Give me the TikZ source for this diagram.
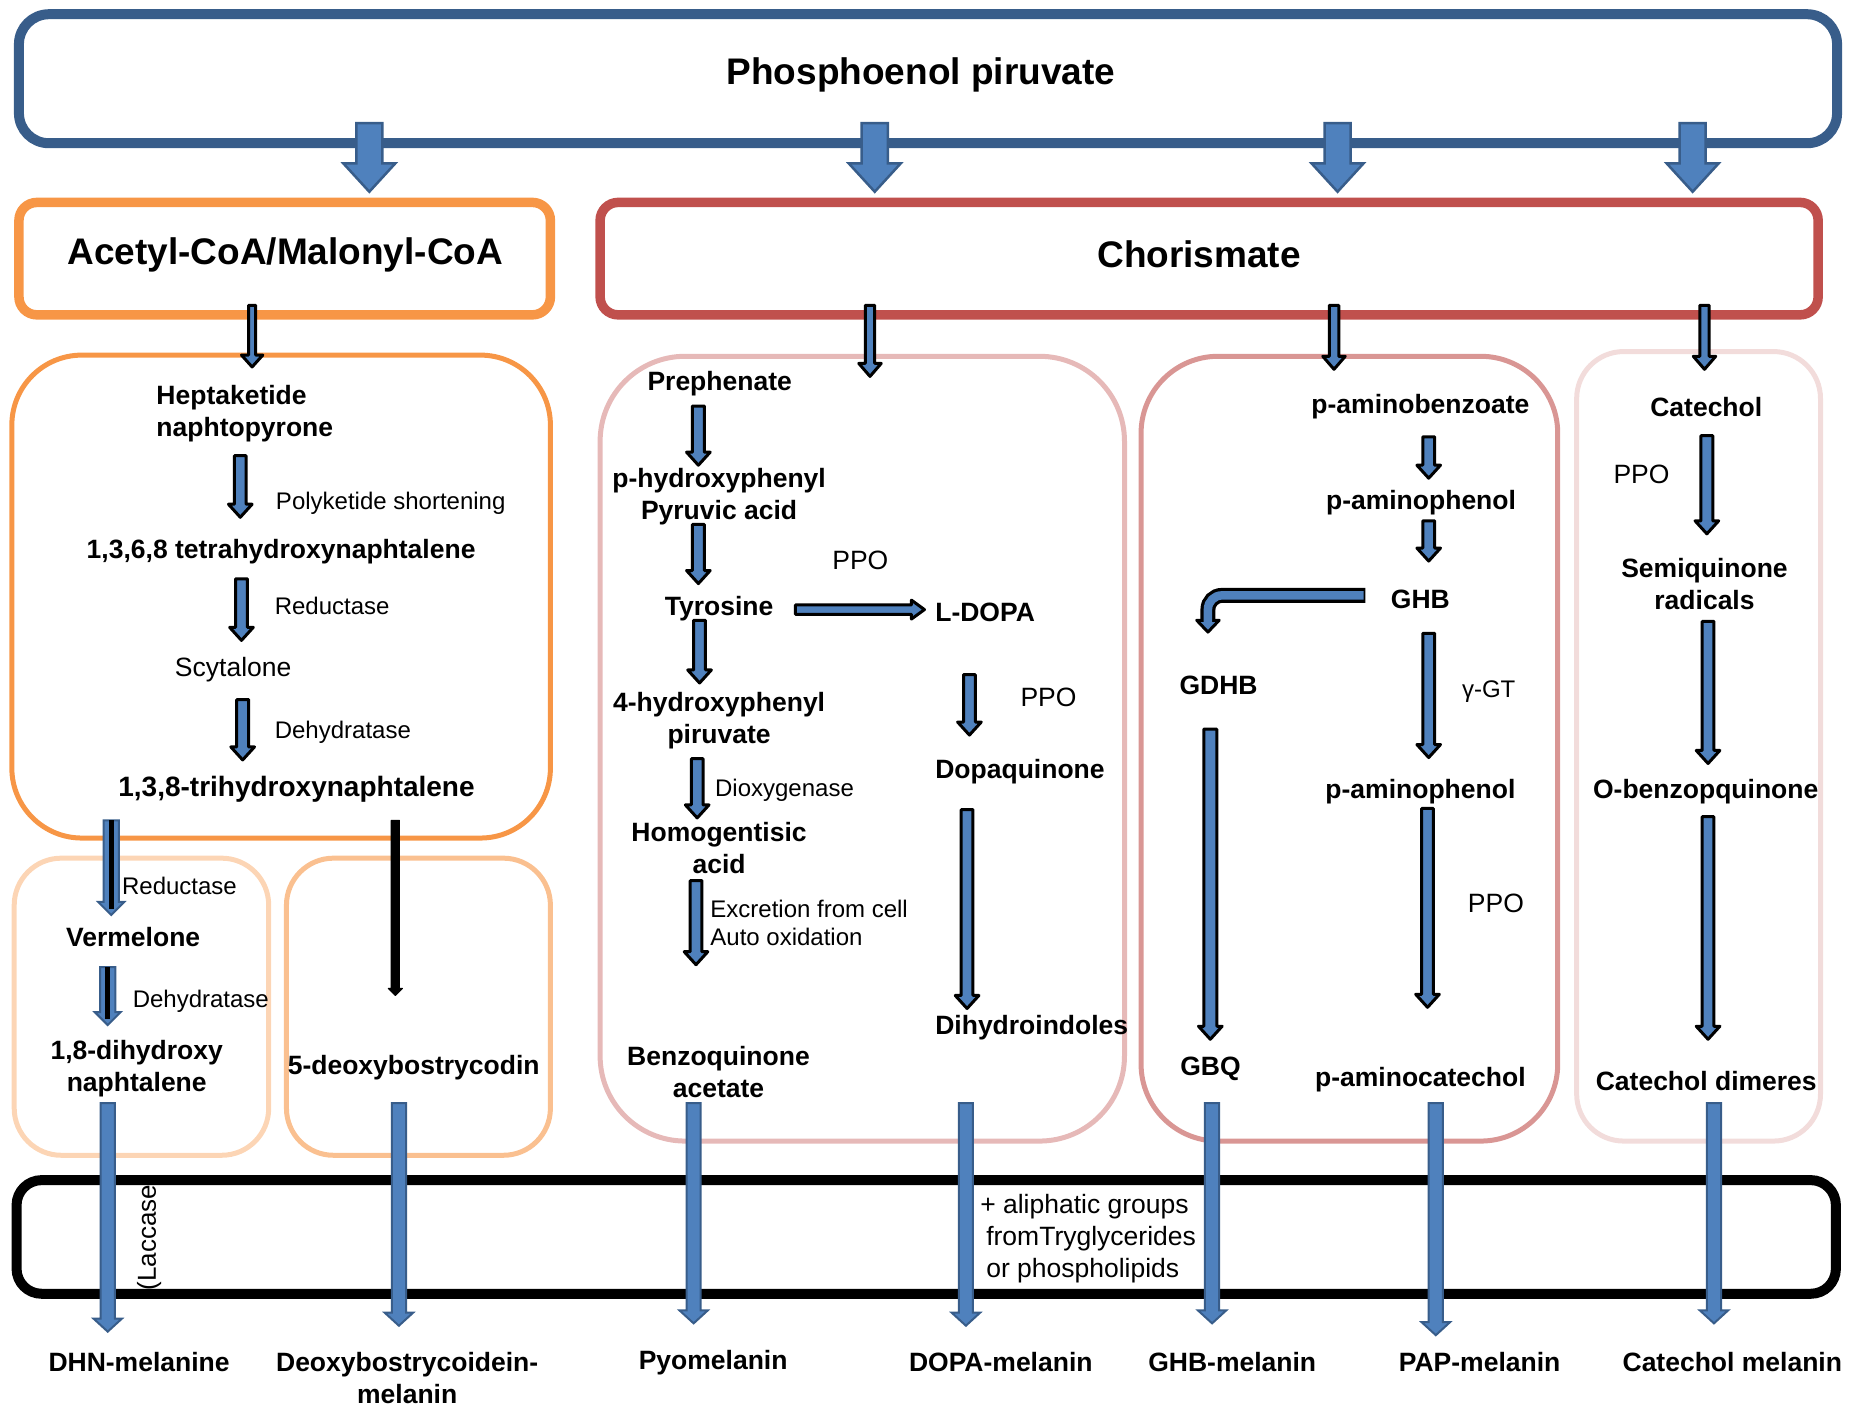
\documentclass[tikz,border=0pt]{standalone}
\usepackage{fontspec}
\setmainfont{Liberation Sans}
\definecolor{topblue}{HTML}{385D8A}
\definecolor{abfill}{HTML}{4F81BD}
\definecolor{abdraw}{HTML}{385D8A}
\definecolor{orng}{HTML}{F79646}
\definecolor{redc}{HTML}{C0504D}
\definecolor{lorA}{HTML}{FCD5B5}
\definecolor{lorB}{HTML}{FAC090}
\definecolor{pkA}{HTML}{E6B9B8}
\definecolor{pkB}{HTML}{D99694}
\definecolor{pkC}{HTML}{F2DCDB}
\tikzset{
  bl/.style={font=\bfseries\fontsize{26.5}{32}\selectfont, align=center, inner sep=0pt, yshift=-3.5pt},
  nl/.style={font=\fontsize{24}{28.5}\selectfont, align=left, inner sep=0pt, yshift=-3pt},
  nlb/.style={nl, font=\fontsize{26.5}{32}\selectfont},
  ttl/.style={font=\bfseries\fontsize{37}{44}\selectfont, inner sep=0pt, yshift=-3.5pt},
  kar/.style={fill=abfill, draw=black, line width=3pt, line join=round},
  bar/.style={fill=abfill, draw=abdraw, line width=2pt, line join=miter},
  blk/.style={fill=black, draw=black, line width=1pt, line join=round}
}
% style, x, ytop, ytip, half shaft, half head, head length
\newcommand\varrow[7]{%
  \draw[#1] (#2-#5,#3) -- (#2+#5,#3) -- (#2+#5,#4-#7) -- (#2+#6,#4-#7) -- (#2,#4)
     -- (#2-#6,#4-#7) -- (#2-#5,#4-#7) -- cycle;}
\begin{document}
\begin{tikzpicture}[x=1.1837pt,y=-1.1837pt]
\useasboundingbox (0,0) rectangle (1568,1189.5);
% ---------- boxes
\draw[topblue, line width=10pt, rounded corners=30pt] (16,12) rectangle (1552,121);
\draw[orng, line width=9.5pt, rounded corners=18pt] (16,171) rectangle (465,266);
\draw[redc, line width=9.5pt, rounded corners=18pt] (507,171) rectangle (1536,266);
\draw[orng, line width=5pt, rounded corners=70pt] (10,300) rectangle (465,708);
\draw[lorA, line width=5pt, rounded corners=47pt] (12,725) rectangle (227,976);
\draw[lorB, line width=5pt, rounded corners=47pt] (242,725) rectangle (465,976);
\draw[pkA, line width=5pt, rounded corners=85pt] (507,301) rectangle (950,964);
\draw[pkB, line width=5pt, rounded corners=77pt] (964,301) rectangle (1316,964);
\draw[pkC, line width=5pt, rounded corners=47pt] (1332,297) rectangle (1538,964);
\draw[black, line width=10pt, rounded corners=25pt] (14,997) rectangle (1551,1093);
% ---------- titles
\node[ttl] (pep) at (778,60) {Phosphoenol piruvate};
\node[ttl] (acm) at (241,212) {Acetyl-CoA/Malonyl-CoA};
\node[ttl] (cho) at (1013,212) {Chorismate};
% ---------- DHN column
\node[bl,align=left,anchor=west] (hep) at (132,346.5) {Heptaketide\\naphtopyrone};
\node[nl,anchor=west] (pks) at (233,423) {Polyketide shortening};
\node[bl] (thnA) at (237.5,463) {1,3,6,8 tetrahydroxynaphtalene};
\node[nl,anchor=west] (redA) at (232,509) {Reductase};
\node[nlb] (scy) at (197,563) {Scytalone};
\node[nl,anchor=west] (dehA) at (232,616) {Dehydratase};
\node[bl,font=\bfseries\fontsize{28}{32}\selectfont] (thnB) at (250.5,664) {1,3,8-trihydroxynaphtalene};
\node[nl,anchor=west] (redB) at (103,746) {Reductase};
\node[bl] (ver) at (112.5,789) {Vermelone};
\node[nl,anchor=west] (dehB) at (112,843) {Dehydratase};
\node[bl] (dhn) at (115.5,899.5) {1,8-dihydroxy\\naphtalene};
\node[bl] (dbc) at (349.5,899) {5-deoxybostrycodin};
% ---------- tyrosine column
\node[bl] (pre) at (608,321) {Prephenate};
\node[bl] (hpp) at (607.5,416.5) {p-hydroxyphenyl\\Pyruvic acid};
\node[nlb,anchor=west] (ppoA) at (703,471) {PPO};
\node[bl] (tyr) at (607.5,511) {Tyrosine};
\node[bl,anchor=west] (ldopa) at (790,514) {L-DOPA};
\node[bl] (hppB) at (607.5,605.5) {4-hydroxyphenyl\\piruvate};
\node[nl,anchor=west] (diox) at (604,665) {Dioxygenase};
\node[bl] (hga) at (607.5,713.5) {Homogentisic\\acid};
\node[nl,anchor=west] (exc) at (600,777) {Excretion from cell\\Auto oxidation};
\node[bl] (bqa) at (607,902.5) {Benzoquinone\\acetate};
\node[nlb,anchor=west] (ppoB) at (862,587) {PPO};
\node[bl,anchor=west] (dq) at (790,649) {Dopaquinone};
\node[bl,anchor=west] (dhi) at (790,865) {Dihydroindoles};
% ---------- GHB column
\node[bl] (pab) at (1200,341) {p-aminobenzoate};
\node[bl] (papA) at (1200.5,422) {p-aminophenol};
\node[bl] (ghb) at (1200,503) {GHB};
\node[bl] (gdhb) at (1029.5,576) {GDHB};
\node[nl,anchor=west] (ggt) at (1235,582) {γ-GT};
\node[bl] (papB) at (1200,666) {p-aminophenol};
\node[nlb,anchor=west] (ppoC) at (1240,761) {PPO};
\node[bl,anchor=west] (gbq) at (997,900) {GBQ};
\node[bl] (pac) at (1200,909) {p-aminocatechol};
% ---------- catechol column
\node[bl] (cat) at (1441.5,341) {Catechol};
\node[nlb,anchor=west] (ppoD) at (1363,398) {PPO};
\node[bl] (sqr) at (1440,490.5) {Semiquinone\\radicals};
\node[bl] (obq) at (1441,666) {O-benzopquinone};
\node[bl] (cdm) at (1441.5,910) {Catechol dimeres};
% ---------- membrane & products
\node[font=\fontsize{26}{30}\selectfont, inner sep=0pt, rotate=90] (lac) at (126,1042) {(Laccase)};
\node[nlb,anchor=west] (ali) at (828,1044) {+ aliphatic groups\\\hspace*{6pt}fromTryglycerides\\\hspace*{6pt}or phospholipids};
\node[bl] (mA) at (117.5,1148) {DHN-melanine};
\node[bl] (mB) at (344,1161.5) {Deoxybostrycoidein-\\melanin};
\node[bl] (mC) at (602.5,1148) {Pyomelanin};
\node[bl] (mD) at (845.5,1148) {DOPA-melanin};
\node[bl] (mE) at (1041,1148) {GHB-melanin};
\node[bl] (mF) at (1250,1148) {PAP-melanin};
\node[bl] (mG) at (1463.5,1148) {Catechol melanin};
% ---------- big arrows from PEP
\foreach \x in {312,739,1130,1430} {\varrow{bar,line width=2.5pt}{\x}{104}{162}{11}{22}{24}}
% ---------- arrows to melanins
\foreach \x/\t in {91/1125,337/1120,586/1118,816/1120,1024/1118,1213/1128,1448/1118}
  {\varrow{bar}{\x}{932}{\t}{6}{12}{11}}
% ---------- black outlined arrows
\varrow{kar}{213}{258}{310}{3}{9}{10}
\varrow{kar}{735}{258}{318}{4}{9.5}{11}
\varrow{kar}{1127}{258}{312}{4}{9.5}{11}
\varrow{kar}{1440}{258}{312}{4}{9.5}{11}
\varrow{kar}{203}{385}{437}{5}{10}{11}
\varrow{kar}{204}{489}{541}{5}{10}{11}
\varrow{kar}{205}{591}{642}{5}{10}{11}
\varrow{kar}{590}{343}{393}{5}{10}{11}
\varrow{kar}{590}{443}{493}{5}{10}{11}
\varrow{kar}{591}{524}{577}{5}{10}{11}
\varrow{kar}{589}{641}{691}{5}{10}{11}
\varrow{kar}{588}{744}{815}{5}{10}{11}
\varrow{kar}{819}{570}{621}{5}{10}{11}
\varrow{kar}{817}{684}{852}{5}{10}{11}
\varrow{kar}{1207}{369}{404}{5}{10}{11}
\varrow{kar}{1207}{440}{474}{5}{10}{11}
\varrow{kar}{1207}{535}{640}{5}{10}{11}
\varrow{kar}{1206}{683}{851}{5}{10}{11}
\varrow{kar}{1022.5}{616}{878}{5.5}{10}{11}
\varrow{kar}{1442}{368}{451}{5}{10}{11}
\varrow{kar}{1443}{525}{645}{5}{10}{11}
\varrow{kar}{1443}{690}{878}{5}{10}{11}
% Tyrosine -> L-DOPA
\draw[kar] (672,511) -- (770,511) -- (770,507) -- (781,515) -- (770,523) -- (770,519) -- (672,519) -- cycle;
% GHB -> GDHB bent arrow
\draw[black, line width=15pt, rounded corners=14pt] (1153.5,503) -- (1020.5,503) -- (1020.5,525);
\draw[kar] (1011,524) -- (1020.5,534) -- (1030,524) -- cycle;
\draw[abfill, line width=8.5pt, rounded corners=14pt] (1152,503) -- (1020.5,503) -- (1020.5,526);
% DHN sub arrows (blue with black core)
\varrow{bar}{94}{693}{773}{6.5}{11}{11}
\draw[black, line width=5pt] (94,693) -- (94,768);
\varrow{bar}{91}{817}{866}{6.5}{11}{11}
\draw[black, line width=5pt] (91,817) -- (91,861);
% plain black arrow to 5-deoxybostrycodin
\varrow{blk}{334}{693}{841}{3.5}{6}{6}
\end{tikzpicture}
\end{document}
